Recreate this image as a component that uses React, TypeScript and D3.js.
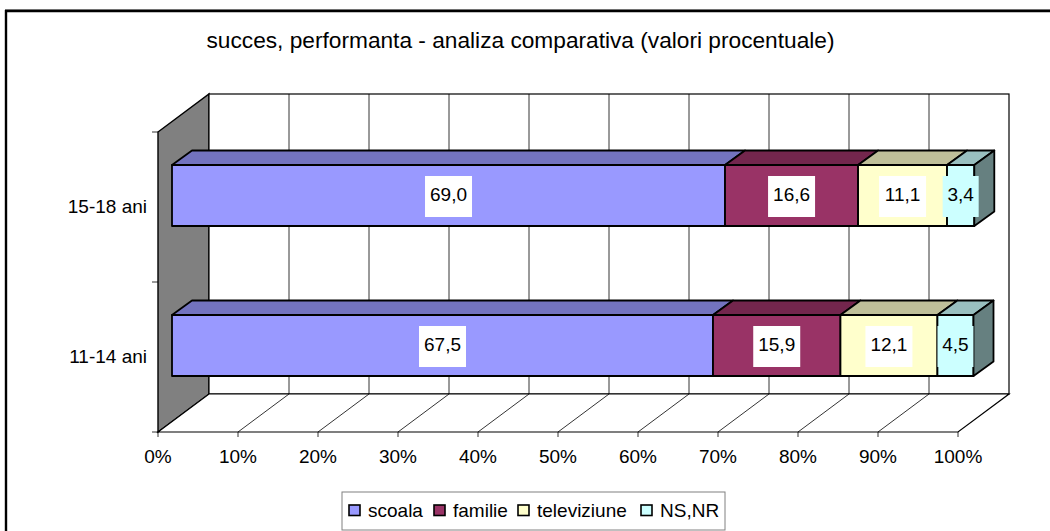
import React from 'react';
import * as d3 from 'd3';

const categories = ['15-18 ani', '11-14 ani'];
const seriesNames = ['scoala', 'familie', 'televiziune', 'NS,NR'];
const scoala = [69.0, 67.5];
const familie = [16.6, 15.9];
const televiziune = [11.1, 12.1];
const nsnr = [3.4, 4.5];
const seriesValues = [scoala, familie, televiziune, nsnr];
const colors = ['#9999ff', '#993366', '#ffffcc', '#ccffff'];
const tickValues = [0, 10, 20, 30, 40, 50, 60, 70, 80, 90, 100];

const width = 1050;
const height = 531;
const font = '"Liberation Sans", Arial, sans-serif';

// 3d box: floor/wall depth and the depth of the bars themselves
const depth = {x: 51, y: -38};
const barDepth = {x: 20, y: -14.5};
const barInset = {x: 14, y: -11.5};

const x = d3.scaleLinear().domain([0, 100]).range([158, 958]);
const y = d3.scaleBand().domain(categories).range([132, 432]);
const barX = d3.scaleLinear().domain([0, 100]).range([158 + barInset.x, 958 + barInset.x + 1.5]);
const barHeight = 61;

const fmt = (v: number) => v.toFixed(1).replace('.', ',');
// excel style shading, plain multiply of the channels
const shade = (c: string, k: number) => {
    const r = d3.rgb(c);
    return d3.rgb(r.r * k, r.g * k, r.b * k).formatHex();
};

const pts = (p: number[][]) => p.map(d => d.join(',')).join(' ');

const legendX = [349, 434, 518, 641];

const App = () => {
    const x0 = x(0), x1 = x(100);
    const yTop = y.range()[0], yBot = y.range()[1];

    const bars = categories.map((cat, ci) => {
        let acc = 0;
        const cy = y(cat)! + y.bandwidth() / 2 + barInset.y;
        const top = cy - barHeight / 2;
        const bottom = cy + barHeight / 2;
        const segs = seriesValues.map((s, si) => {
            const a = barX(acc);
            acc += s[ci];
            const b = barX(acc);
            return {a, b, si, v: s[ci]};
        });
        return {cat, top, bottom, cy, segs, end: barX(acc)};
    });

    return (
        <svg width={width} height={height} style={{position: 'absolute', left: 0, top: 0}} fontFamily={font} fill="#000">
            <rect x={0} y={0} width={width} height={height} fill="#fff"/>
            <line x1={5} x2={width} y1={9.5} y2={9.5} stroke="#999" strokeWidth={1}/>
            <line x1={5} x2={width} y1={11} y2={11} stroke="#000" strokeWidth={2.4}/>
            <line x1={6} x2={6} y1={10} y2={height} stroke="#000" strokeWidth={2.4}/>
            <text x={520.5} y={48} fontSize={22.7} textAnchor="middle">succes, performanta - analiza comparativa (valori procentuale)</text>

            {/* walls */}
            <polygon points={pts([[x0, yTop], [x0 + depth.x, yTop + depth.y], [x0 + depth.x, yBot + depth.y], [x0, yBot]])} fill="#808080" stroke="#000" strokeWidth={1.4}/>
            <rect x={x0 + depth.x} y={yTop + depth.y} width={x1 - x0} height={yBot - yTop} fill="#fff" stroke="#000" strokeWidth={1.2}/>
            <polygon points={pts([[x0, yBot], [x0 + depth.x, yBot + depth.y], [x1 + depth.x, yBot + depth.y], [x1, yBot]])} fill="#fff" stroke="#000" strokeWidth={1.2}/>

            {/* gridlines */}
            {tickValues.slice(1, -1).map(t => (
                <g key={t} stroke="#000" fill="none">
                    <line x1={x(t) + depth.x} x2={x(t) + depth.x} y1={yTop + depth.y} y2={yBot + depth.y} strokeWidth={0.8}/>
                    <line x1={x(t)} x2={x(t) + depth.x} y1={yBot} y2={yBot + depth.y} strokeWidth={0.8}/>
                </g>
            ))}

            {/* axis ticks */}
            {tickValues.map(t => (
                <g key={t}>
                    <line x1={x(t)} x2={x(t)} y1={yBot} y2={yBot + 5} stroke="#000" strokeWidth={0.8}/>
                    <text x={x(t)} y={yBot + 31} fontSize={19} textAnchor="middle">{t}%</text>
                </g>
            ))}
            {[yTop, yTop + y.step(), yBot].map(v => (
                <line key={v} x1={x0 - 6} x2={x0} y1={v} y2={v} stroke="#000" strokeWidth={0.8}/>
            ))}
            {categories.map(c => (
                <text key={c} x={x0 - 11} y={y(c)! + y.bandwidth() / 2 + 6} fontSize={19} textAnchor="end">{c}</text>
            ))}

            {/* bars */}
            {bars.map(bar => (
                <g key={bar.cat} stroke="#000" strokeWidth={1.8} strokeLinejoin="round">
                    {bar.segs.map(s => (
                        <g key={s.si}>
                            <polygon points={pts([[s.a, bar.top], [s.a + barDepth.x, bar.top + barDepth.y], [s.b + barDepth.x, bar.top + barDepth.y], [s.b, bar.top]])} fill={shade(colors[s.si], 0.75)}/>
                            <rect x={s.a} y={bar.top} width={s.b - s.a} height={barHeight} fill={colors[s.si]}/>
                        </g>
                    ))}
                    <polygon points={pts([[bar.end, bar.top], [bar.end + barDepth.x, bar.top + barDepth.y], [bar.end + barDepth.x, bar.bottom + barDepth.y], [bar.end, bar.bottom]])} fill={shade(colors[3], 0.5)}/>
                </g>
            ))}

            {/* data labels */}
            {bars.map(bar => bar.segs.map(s => {
                const mid = (s.a + s.b) / 2;
                const w = s.si === 3 ? 36 : 47;
                return (
                    <g key={bar.cat + s.si}>
                        <rect x={mid - w / 2} y={bar.cy - 19.5} width={w} height={41} fill={s.si === 3 ? colors[3] : '#fff'}/>
                        <text x={mid} y={bar.cy + 5.5} fontSize={19} textAnchor="middle">{fmt(s.v)}</text>
                    </g>
                );
            }))}

            {/* legend */}
            <rect x={342} y={492} width={383} height={38} fill="#fff" stroke="#808080" strokeWidth={1}/>
            {seriesNames.map((n, i) => (
                <g key={n}>
                    <rect x={legendX[i]} y={505} width={11} height={10.5} fill={colors[i]} stroke="#000" strokeWidth={1.6}/>
                    <text x={legendX[i] + 19} y={516.5} fontSize={19}>{n}</text>
                </g>
            ))}
        </svg>
    );
};

export default App;
